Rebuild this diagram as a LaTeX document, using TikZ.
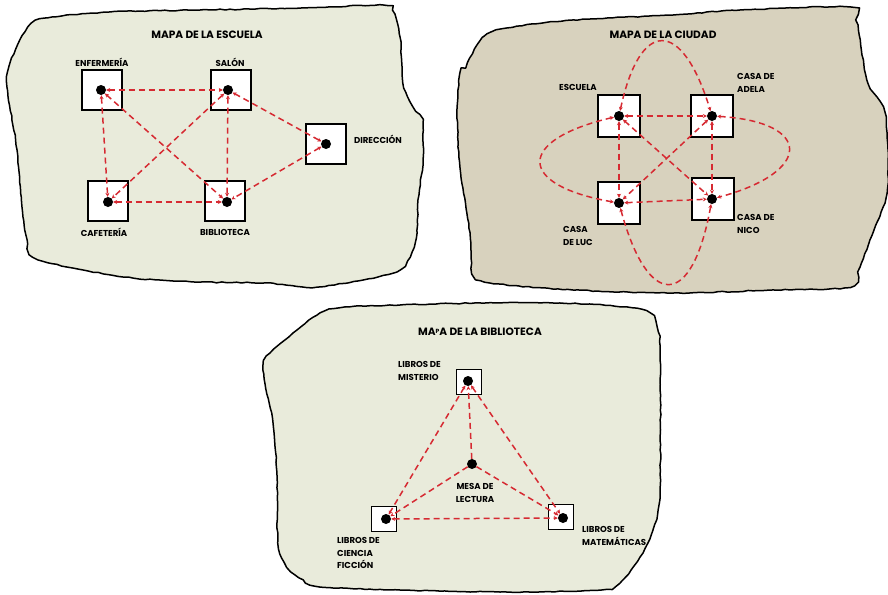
\documentclass[tikz,border=0pt]{standalone}
\usepackage{fontspec}
\setmainfont{Poppins}
\usetikzlibrary{arrows.meta,decorations.pathmorphing}
\definecolor{paleA}{RGB}{233,235,219}
\definecolor{paleB}{RGB}{216,210,190}
\definecolor{dashred}{RGB}{214,42,50}
\begin{document}
\begin{tikzpicture}[x=1pt,y=-1pt,
  blob/.style={draw=black,line width=1.5pt,line join=round,decorate,
    decoration={random steps,segment length=5pt,amplitude=0.5pt}},
  box/.style={draw=black,fill=white,line width=1.6pt,minimum size=#1,inner sep=0pt},
  dot/.style={circle,fill=black,minimum size=10pt,inner sep=0pt},
  edge/.style={draw=dashred,line width=1.5pt,dash pattern=on 6pt off 4pt},
  both/.style={edge,{Stealth[length=4pt,width=4pt]}-{Stealth[length=4pt,width=4pt]}},
  one/.style={edge,-{Stealth[length=4pt,width=4pt]}},
  lbl/.style={font=\bfseries\fontsize{8.6}{12.5}\selectfont,align=left,inner sep=0pt},
  ttl/.style={font=\bfseries\fontsize{10.6}{12}\selectfont,inner sep=0pt}]
\pgfmathsetseed{7}
\fill[white] (0,0) rectangle (888,594);
\useasboundingbox (0,0) rectangle (888,594);

% ---------- Map 1: school ----------
\path[fill=paleA,blob] plot[smooth cycle,tension=0.5] coordinates {
 (28,27) (47,18) (110,12) (200,10) (300,8) (383,5) (393,10) (400,37) (403,83)
 (413,107) (422,120) (423,160) (418,200) (417,233) (410,257) (393,273)
 (317,287) (267,283) (200,282) (133,278) (67,267) (33,257) (27,240) (23,217)
 (17,150) (7,87) (10,63)};
\node[ttl] (t1) at (207,35) {MAPA DE LA ESCUELA};
\node[box=40pt] (benf) at (102,90) {};
\node[box=40pt] (bsal) at (231,90) {};
\node[box=40pt] (bdir) at (326,144) {};
\node[box=40pt] (bcaf) at (108,201) {};
\node[box=40pt] (bbib) at (225,201) {};
\node[dot] (enf) at (101,90) {};
\node[dot] (sal) at (228,90) {};
\node[dot] (dir) at (326,144) {};
\node[dot] (caf) at (108,202) {};
\node[dot] (bib) at (227,202) {};
\draw[both] (enf) -- (sal);
\draw[both] (enf) -- (caf);
\draw[both] (enf) -- (bib);
\draw[both] (sal) -- (caf);
\draw[both] (sal) -- (bib);
\draw[both] (sal) -- (dir);
\draw[both] (dir) -- (bib);
\draw[both] (caf) -- (bib);
\node[lbl] (lenf) at (102,62) {ENFERMERÍA};
\node[lbl] (lsal) at (230,62) {SALÓN};
\node[lbl] (ldir) at (378,139) {DIRECCIÓN};
\node[lbl] (lcaf) at (104,232) {CAFETERÍA};
\node[lbl] (lbib) at (225,232) {BIBLIOTECA};

% ---------- Map 2: city ----------
\path[fill=paleB,blob] plot[smooth cycle,tension=0.5] coordinates {
 (465,67) (483,37) (507,28) (573,20) (673,15) (697,13) (740,10) (850,7)
 (857,20) (867,80) (883,107) (887,133) (887,193) (870,240) (860,267) (850,287)
 (773,290) (673,293) (573,290) (490,283) (473,273) (470,233) (460,167)
 (457,110) (460,73)};
\node[ttl] (t2) at (663,35) {MAPA DE LA CIUDAD};
\node[box=42pt] (besc) at (619,116) {};
\node[box=42pt] (bade) at (712,116) {};
\node[box=42pt] (bluc) at (619,203) {};
\node[box=42pt] (bnic) at (713,199) {};
\node[dot] (esc) at (619,116) {};
\node[dot] (ade) at (712,116) {};
\node[dot] (luc) at (619,203) {};
\node[dot] (nic) at (712,199) {};
\draw[both] (esc) -- (ade);
\draw[both] (esc) -- (luc);
\draw[both] (ade) -- (nic);
\draw[both] (luc) -- (nic);
\draw[both] (esc) -- (nic);
\draw[both] (ade) -- (luc);
\draw[both] (esc) .. controls (640,18) and (682,18) .. (ade);
\draw[both] (luc) .. controls (648,310) and (692,310) .. (nic);
\draw[both] (esc) .. controls (516,140) and (516,185) .. (luc);
\draw[both] (ade) .. controls (813,122) and (813,172) .. (nic);
\node[lbl] (lesc) at (578,87) {ESCUELA};
\node[lbl,anchor=west] (lade) at (737,83) {CASA DE\\ADELA};
\node[lbl,anchor=west] (lnic) at (737,224) {CASA DE\\NICO};
\node[lbl,anchor=west] (lluc) at (563,236) {CASA\\DE LUC};

% ---------- Map 3: library ----------
\path[fill=paleA,blob] plot[smooth cycle,tension=0.5] coordinates {
 (320,313) (345,307) (400,305) (480,303) (560,303) (627,307) (650,313)
 (657,327) (660,345) (660,490) (653,530) (640,557) (620,583) (600,590)
 (500,592) (400,590) (320,587) (303,580) (287,567) (278,543) (277,477)
 (273,423) (263,370) (270,353) (293,333)};
\node[ttl] (t3) at (480,332) {MA\raisebox{0.35ex}{\fontsize{6}{6}\selectfont P}A DE LA BIBLIOTECA};
\node[box=25pt] (bmis) at (469,382) {};
\node[box=25pt] (bcie) at (384,519) {};
\node[box=25pt] (bmat) at (561,517) {};
\node[dot] (mis) at (468,381) {};
\node[dot] (cie) at (386,519) {};
\node[dot] (mat) at (563,518) {};
\node[dot] (mes) at (472,464) {};
\draw[both] (mis) -- (cie);
\draw[both] (mis) -- (mat);
\draw[both] (cie) -- (mat);
\draw[one] (mes) -- (mis);
\draw[one] (mes) -- (cie);
\draw[one] (mes) -- (mat);
\node[lbl,anchor=west] (lmis) at (398,371) {LIBROS DE\\MISTERIO};
\node[lbl,align=center] (lmes) at (475,493) {MESA DE\\LECTURA};
\node[lbl,anchor=west] (lcie) at (337,553) {LIBROS DE\\CIENCIA\\FICCIÓN};
\node[lbl,anchor=west] (lmat) at (582,536) {LIBROS DE\\MATEMÁTICAS};
\end{tikzpicture}
\end{document}
